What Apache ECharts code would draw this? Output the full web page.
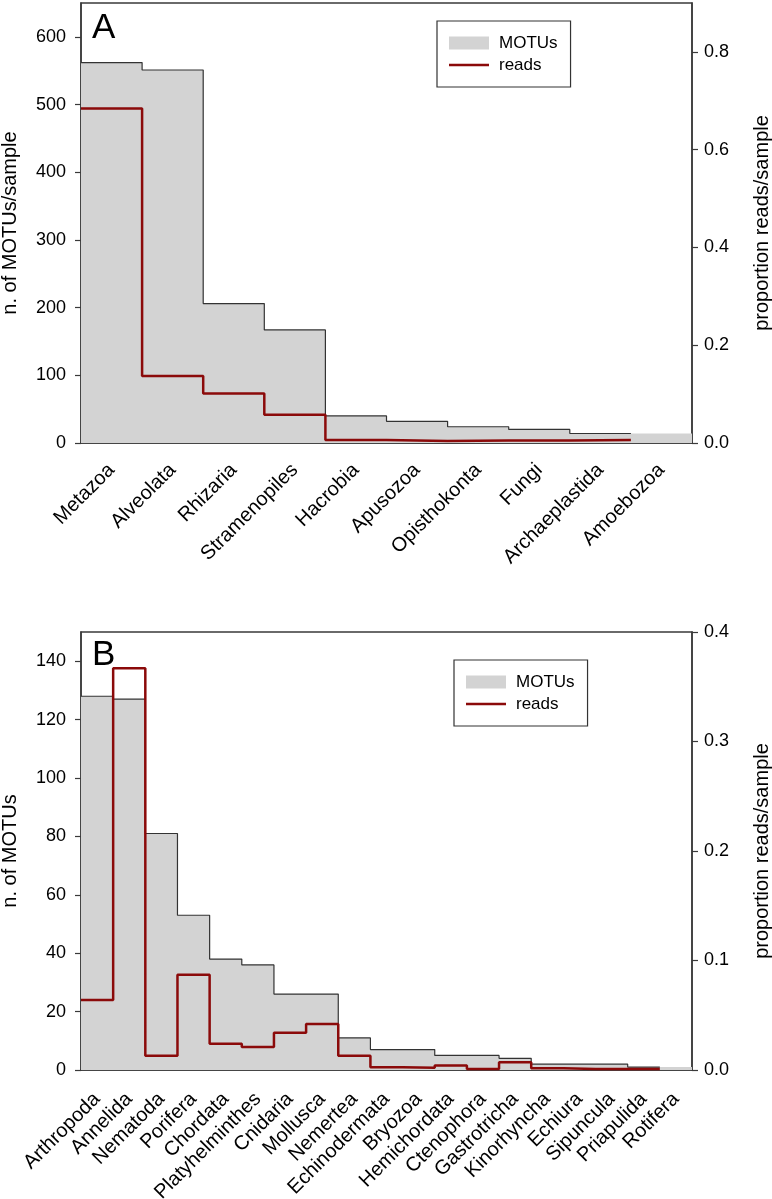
<!DOCTYPE html>
<html>
<head>
<meta charset="utf-8">
<script src="https://cdn.jsdelivr.net/npm/echarts@6/dist/echarts.min.js"></script>
<style>
html,body{margin:0;padding:0;background:#fff;}
#chart{width:772px;height:1199px;}
</style>
</head>
<body>
<div id="chart"></div>
<script>
// ---- Data ----
var categoriesA = ['Metazoa','Alveolata','Rhizaria','Stramenopiles','Hacrobia','Apusozoa','Opisthokonta','Fungi','Archaeplastida','Amoebozoa'];
var motusA = [562, 551, 206, 167, 40, 32, 24, 20, 14, 14];
var readsA = [0.684, 0.137, 0.101, 0.058, 0.006, 0.004, 0.005, 0.005, 0.006, null];

var categoriesB = ['Arthropoda','Annelida','Nematoda','Porifera','Chordata','Platyhelminthes','Cnidaria','Mollusca','Nemertea','Echinodermata','Bryozoa','Hemichordata','Ctenophora','Gastrotricha','Kinorhyncha','Echiura','Sipuncula','Priapulida','Rotifera'];
var motusB = [128, 127, 81, 53, 38, 36, 26, 26, 11, 7, 7, 5, 5, 4, 2, 2, 2, 1, 1];
var readsB = [0.064, 0.367, 0.013, 0.087, 0.024, 0.021, 0.034, 0.042, 0.013, 0.0025, 0.002, 0.004, 0.0008, 0.007, 0.0015, 0.0008, 0.0008, 0.0008, null];

var legendNames = ['MOTUs', 'reads'];
var titleA = {left: 'n. of MOTUs/sample', right: 'proportion reads/sample'};
var titleB = {left: 'n. of MOTUs', right: 'proportion reads/sample'};

// ---- Helpers ----
var FONT = '"Liberation Sans", Arial, Helvetica, sans-serif';
var AXIS_COLOR = '#3a3a3a';
var RED = '#8b0a0a';
var GRAY = '#d3d3d3';

function stepPoints(values) {
  var pts = [];
  for (var i = 0; i < values.length; i++) {
    if (values[i] == null) continue;
    pts.push([i - 0.5, values[i]]);
    pts.push([i + 0.5, values[i]]);
  }
  return pts;
}

function catAxis(grid, cats, margin) {
  return {
    type: 'category', gridIndex: grid, data: cats, boundaryGap: true,
    axisLine: {onZero: false, lineStyle: {color: AXIS_COLOR, width: 1.5}},
    axisTick: {alignWithLabel: true, length: 6, lineStyle: {color: AXIS_COLOR, width: 1.2}},
    axisLabel: {rotate: 45, fontSize: 20, fontFamily: FONT, color: '#000', margin: margin, interval: 0},
    splitLine: {show: false}
  };
}
function hiddenX(grid, n) {
  return {type: 'value', gridIndex: grid, min: -0.5, max: n - 0.5, show: false, splitLine: {show: false}};
}
function valAxis(grid, pos, min, max, interval, name, gap, decimals, showMax, labelMargin) {
  return {
    type: 'value', gridIndex: grid, position: pos, min: min, max: max, interval: interval,
    name: name, nameLocation: 'middle', nameRotate: 90, nameGap: gap,
    nameTextStyle: {fontSize: 20, fontFamily: FONT, color: '#000'},
    axisLine: {show: true, onZero: false, lineStyle: {color: AXIS_COLOR, width: 1.5}},
    axisTick: {show: true, length: 6, lineStyle: {color: AXIS_COLOR, width: 1.2}},
    axisLabel: {fontSize: 18, fontFamily: FONT, color: '#000', margin: labelMargin, showMaxLabel: showMax,
      formatter: function (v) { return decimals ? v.toFixed(decimals) : String(v); }},
    splitLine: {show: false}
  };
}
function legend(left, top) {
  return {
    left: left, top: top, orient: 'vertical',
    data: [
      {name: legendNames[0], icon: 'rect'},
      {name: legendNames[1], icon: 'path://M0,0 H40 V2.6 H0 Z'}
    ],
    itemWidth: 40, itemHeight: 13, itemGap: 4,
    padding: [13, 13, 13, 12],
    borderColor: '#333', borderWidth: 1.2, backgroundColor: '#fff',
    textStyle: {fontSize: 17, fontFamily: FONT, color: '#000', padding: [0, 0, 0, 5], lineHeight: 18},
    selectedMode: false
  };
}
function grid(top, height) {
  return {left: 81, top: top, width: 611, height: height, containLabel: false, outerBoundsMode: 'none',
    show: true, borderColor: AXIS_COLOR, borderWidth: 1.5, backgroundColor: 'transparent'};
}
function fillSeries(xi, yi, values) {
  return {name: 'MOTUs', type: 'line', xAxisIndex: xi, yAxisIndex: yi, data: stepPoints(values), symbol: 'none',
    itemStyle: {color: GRAY}, lineStyle: {width: 0, opacity: 0}, areaStyle: {color: GRAY, opacity: 1, origin: 'start'},
    silent: true, z: 1};
}
function outlineSeries(xi, yi, values) {
  return {name: 'MOTUs outline', type: 'line', xAxisIndex: xi, yAxisIndex: yi, data: stepPoints(values), symbol: 'none',
    lineStyle: {color: '#333', width: 1.2}, silent: true, z: 2};
}
function readsSeries(xi, yi, values) {
  return {name: 'reads', type: 'line', xAxisIndex: xi, yAxisIndex: yi, data: stepPoints(values), symbol: 'none',
    itemStyle: {color: RED}, lineStyle: {color: RED, width: 2.5}, silent: true, z: 3};
}

var option = {
  animation: false,
  backgroundColor: '#fff',
  grid: [grid(3, 440), grid(632, 438)],
  xAxis: [catAxis(0, categoriesA, 24), hiddenX(0, categoriesA.length), catAxis(1, categoriesB, 26), hiddenX(1, categoriesB.length)],
  yAxis: [
    valAxis(0, 'left', 0, 650, 100, titleA.left, 61, 0, false, 15),
    valAxis(0, 'right', 0, 0.9, 0.2, titleA.right, 60, 1, false, 12),
    valAxis(1, 'left', 0, 150, 20, titleB.left, 61, 0, false, 15),
    valAxis(1, 'right', 0, 0.4, 0.1, titleB.right, 60, 1, true, 12)
  ],
  legend: [legend(437, 21), legend(454, 660)],
  title: [
    {text: 'A', left: 92, top: 11, padding: 0, textStyle: {fontSize: 35, fontWeight: 'normal', fontFamily: FONT, color: '#000'}},
    {text: 'B', left: 92, top: 638, padding: 0, textStyle: {fontSize: 35, fontWeight: 'normal', fontFamily: FONT, color: '#000'}}
  ],
  series: [
    fillSeries(1, 0, motusA),
    outlineSeries(1, 0, motusA.slice(0, -1)),
    readsSeries(1, 1, readsA),
    fillSeries(3, 2, motusB),
    outlineSeries(3, 2, motusB.slice(0, -1)),
    readsSeries(3, 3, readsB)
  ]
};

var chart = echarts.init(document.getElementById('chart'), null, {renderer: 'canvas'});
chart.setOption(option);
</script>
</body>
</html>
